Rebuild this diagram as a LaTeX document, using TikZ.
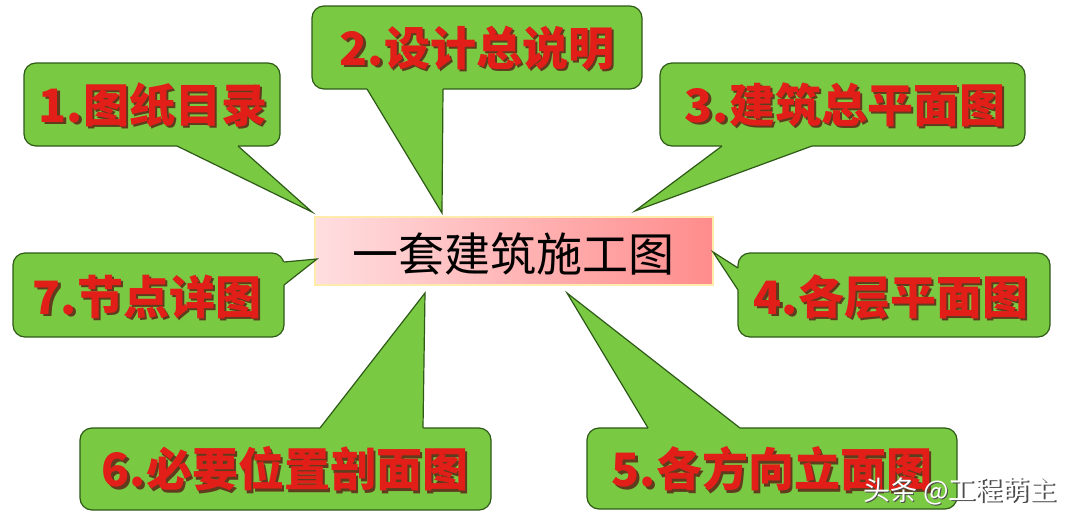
\documentclass[tikz,border=0pt]{standalone}
\usepackage{fontspec}
\newfontfamily\cjk{Noto Sans CJK SC}
\usetikzlibrary{calc}
\definecolor{boxgreen}{RGB}{122,201,67}
\definecolor{boxline}{RGB}{46,90,23}
\definecolor{txtred}{RGB}{226,30,24}
\definecolor{txtshadow}{RGB}{95,60,30}
\definecolor{pinkL}{RGB}{255,222,224}
\definecolor{pinkR}{RGB}{255,140,140}
\definecolor{mainborder}{RGB}{255,236,170}
\tikzset{
  boxbody/.style={fill=boxgreen, draw=boxline, line width=1.2pt, rounded corners=12pt},
  tailfill/.style={fill=boxgreen},
  tailline/.style={draw=boxline, line width=1.2pt, line join=miter},
  lbl/.style={text=txtred, font=\cjk\bfseries\fontsize{46}{46}\selectfont, inner sep=0pt},
  mainbox/.style={left color=pinkL, right color=pinkR, draw=mainborder, line width=2pt},
  maintext/.style={text=black, font=\cjk\fontsize{46}{46}\selectfont, inner sep=0pt},
  wmark/.style={text=white, font=\cjk\fontsize{27}{27}\selectfont, inner sep=0pt},
}
% label with drop shadow inside one node
\newcommand{\calloutlabel}[4]{%
  \node[lbl] (#1) at (#2,#3) {\makebox[0pt][l]{\hspace{2.5pt}\raisebox{-2.5pt}{\color{txtshadow}#4}}#4};
}
% #1 rect corner1, #2 rect corner2, #3 base a, #4 tip, #5 base b, #6 base a inner, #7 base b inner
\newcommand{\callout}[7]{%
  \path[boxbody] #1 rectangle #2;
  \fill[tailfill] #6 -- #3 -- #4 -- #5 -- #7 -- cycle;
  \draw[tailline] #3 -- #4 -- #5;
}
\begin{document}
\begin{tikzpicture}[x=1pt,y=-1pt]
\useasboundingbox (0,0) rectangle (1080,520);
\fill[white] (0,0) rectangle (1080,520);

% central box
\node[mainbox, minimum width=398pt, minimum height=68pt, inner sep=0pt] (main) at (514,251) {};
\node[maintext] (maintitle) at (513,254) {一套建筑施工图};

% tip coordinates
\coordinate (t1) at (312,212);
\coordinate (t2) at (442,213);
\coordinate (t3) at (635,211);
\coordinate (t4) at (713,252);
\coordinate (t5) at (567,293);
\coordinate (t6) at (425,293);
\coordinate (t7) at (317,259);

% 1
\callout{(24,63)}{(280,146)}{(177,146)}{(t1)}{(238,146)}{(177,139)}{(238,139)}
% 2
\callout{(312,6)}{(642,89)}{(367,89)}{(t2)}{(443,89)}{(367,82)}{(443,82)}
% 3
\callout{(660,63)}{(1025,146)}{(722,146)}{(t3)}{(812,146)}{(722,139)}{(812,139)}
% 4
\callout{(738,253)}{(1050,337)}{(738,268)}{(t4)}{(738,290)}{(745,268)}{(745,290)}
% 5
\callout{(587,428)}{(957,509)}{(648,428)}{(t5)}{(740,428)}{(648,435)}{(740,435)}
% 6
\callout{(80,428)}{(491,510)}{(320,428)}{(t6)}{(423,428)}{(320,435)}{(423,435)}
% 7
\callout{(13,253)}{(284,337)}{(284,262)}{(t7)}{(284,285)}{(277,262)}{(277,285)}

\calloutlabel{l1}{153}{106}{1.图纸目录}
\calloutlabel{l2}{477}{49}{2.设计总说明}
\calloutlabel{l3}{845}{106}{3.建筑总平面图}
\calloutlabel{l4}{891}{298}{4.各层平面图}
\calloutlabel{l5}{772}{470}{5.各方向立面图}
\calloutlabel{l6}{285}{470}{6.必要位置剖面图}
\calloutlabel{l7}{147}{298}{7.节点详图}

% watermark
\node[wmark] (wm) at (960,492) {\makebox[0pt][l]{\hspace{1.5pt}\raisebox{-1.5pt}{\color{black!70}头条 @工程萌主}}头条 @工程萌主};
\end{tikzpicture}
\end{document}
